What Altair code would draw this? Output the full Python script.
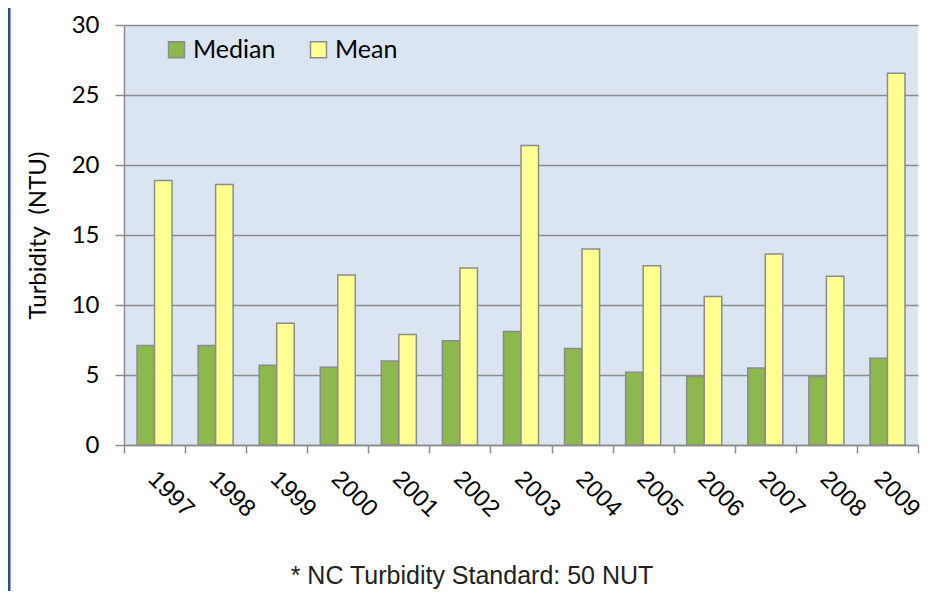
import altair as alt
import pandas as pd

years = ["1997", "1998", "1999", "2000", "2001", "2002", "2003",
         "2004", "2005", "2006", "2007", "2008", "2009"]
median_vals = [7.1, 7.1, 5.7, 5.55, 6.0, 7.45, 8.1, 6.9, 5.2, 4.9, 5.5, 4.9, 6.2]
mean_vals = [18.9, 18.6, 8.7, 12.15, 7.9, 12.65, 21.4, 14.0, 12.8, 10.6, 13.65, 12.05, 26.55]
series = ["Median", "Mean"]
colors = ["#8CB84E", "#FFFF91"]
footnote = ["* NC Turbidity Standard: 50 NUT"]

rows = []
for i, y in enumerate(years):
    rows.append({"Year": y, "Series": "Median", "Value": median_vals[i]})
    rows.append({"Year": y, "Series": "Mean", "Value": mean_vals[i]})
df = pd.DataFrame(rows)

GRAY = "#8C8C8C"

bars = alt.Chart(df).mark_bar(stroke=GRAY, strokeWidth=1.5).encode(
    x=alt.X("Year:N", sort=years, title=None,
            scale=alt.Scale(paddingInner=0, paddingOuter=0),
            axis=alt.Axis(labelAngle=45, labelAlign="left", labelBaseline="middle",
                          labelFont="Liberation Sans", labelFontSize=24,
                          labelColor="#000000", labelPadding=22,
                          labelOffset=alt.ExprRef("datum.label == '2009' ? -10 : -3"),
                          tickBand="extent", tickSize=8, tickColor=GRAY, tickWidth=1.5,
                          domainColor=GRAY, domainWidth=1.5, grid=False)),
    xOffset=alt.XOffset("Series:N", sort=series,
                        scale=alt.Scale(paddingInner=0, paddingOuter=0.743)),
    y=alt.Y("Value:Q", title="Turbidity \u00a0(NTU)",
            scale=alt.Scale(domain=[0, 30], nice=False),
            axis=alt.Axis(values=[0, 5, 10, 15, 20, 25, 30], labelFont="Lato", labelFontSize=24,
                          labelColor="#000000", labelPadding=16, tickSize=9, tickColor=GRAY,
                          tickWidth=1.5, domainColor=GRAY, domainWidth=1.5,
                          gridColor=GRAY, gridWidth=1.5,
                          titleFont="Lato", titleFontSize=24, titleFontWeight="normal",
                          titleColor="#000000", titlePadding=21)),
    color=alt.Color("Series:N", sort=series,
                    scale=alt.Scale(domain=series, range=colors),
                    legend=alt.Legend(title=None, orient="none", legendX=40, legendY=12,
                                      direction="horizontal", symbolType="square",
                                      symbolSize=256, symbolStrokeColor=GRAY,
                                      symbolStrokeWidth=1.5, labelFont="Lato",
                                      labelFontSize=25, labelColor="#000000",
                                      labelOffset=4, columnPadding=30)),
)

foot = alt.Chart(pd.DataFrame({"t": footnote})).mark_text(
    font="Liberation Sans", fontSize=25, color="#222222", align="center", baseline="alphabetic"
).encode(text="t:N", x=alt.value(348), y=alt.value(559))

left_line = alt.Chart(pd.DataFrame({"a": [0]})).mark_rule(color="#2B4AA0", strokeWidth=3).encode(
    x=alt.value(-115), y=alt.value(-20), y2=alt.value(575))

chart = alt.layer(bars, foot, left_line).properties(
    width=794, height=420,
    autosize=alt.AutoSizeParams(type="none"),
    padding={"left": 116, "top": 17, "right": 6, "bottom": 146},
    background="white",
).configure_view(fill="#DAE5F1", stroke=None)

chart.save("out.html", embed_options={"renderer": "svg", "actions": False})
